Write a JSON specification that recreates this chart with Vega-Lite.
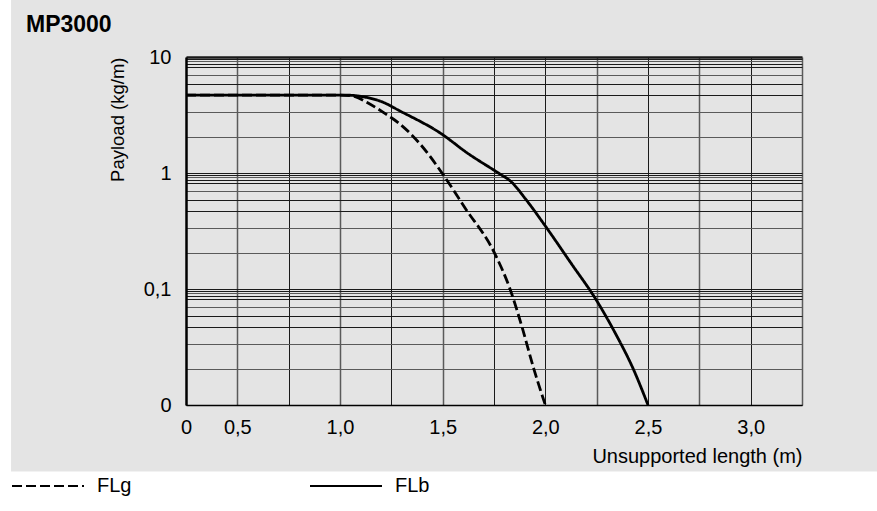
{
  "$schema": "https://vega.github.io/schema/vega-lite/v6.json",
  "width": 616,
  "height": 348,
  "autosize": {"type": "none"},
  "padding": {"left": 186, "top": 57, "right": 75, "bottom": 106},
  "background": "#e4e4e4",
  "title": {
    "text": "MP3000",
    "anchor": "start",
    "frame": "group",
    "orient": "top",
    "dx": -160,
    "dy": 54.5,
    "offset": 0,
    "baseline": "alphabetic",
    "font": "Liberation Sans",
    "fontSize": 23,
    "fontWeight": "bold",
    "color": "black"
  },
  "config": {"view": {"stroke": null}, "font": "Liberation Sans"},
  "layer": [
    {
      "data": {
        "values": [
          {"series": "FLb", "x": 0.25, "y": 4.7},
          {"series": "FLb", "x": 0.6, "y": 4.7},
          {"series": "FLb", "x": 1.0, "y": 4.7},
          {"series": "FLb", "x": 1.05, "y": 4.68},
          {"series": "FLb", "x": 1.1, "y": 4.58},
          {"series": "FLb", "x": 1.21, "y": 4.07},
          {"series": "FLb", "x": 1.29, "y": 3.44},
          {"series": "FLb", "x": 1.495, "y": 2.17},
          {"series": "FLb", "x": 1.617, "y": 1.5},
          {"series": "FLb", "x": 1.779, "y": 0.98},
          {"series": "FLb", "x": 1.828, "y": 0.858},
          {"series": "FLb", "x": 1.91, "y": 0.577},
          {"series": "FLb", "x": 2.0, "y": 0.349},
          {"series": "FLb", "x": 2.125, "y": 0.167},
          {"series": "FLb", "x": 2.25, "y": 0.0794},
          {"series": "FLb", "x": 2.34, "y": 0.0418},
          {"series": "FLb", "x": 2.428, "y": 0.0205},
          {"series": "FLb", "x": 2.5, "y": 0.01},
          {"series": "FLg", "x": 0.25, "y": 4.7},
          {"series": "FLg", "x": 0.6, "y": 4.7},
          {"series": "FLg", "x": 1.0, "y": 4.7},
          {"series": "FLg", "x": 1.073, "y": 4.56},
          {"series": "FLg", "x": 1.13, "y": 4.07},
          {"series": "FLg", "x": 1.211, "y": 3.33},
          {"series": "FLg", "x": 1.292, "y": 2.64},
          {"series": "FLg", "x": 1.39, "y": 1.78},
          {"series": "FLg", "x": 1.495, "y": 1.01},
          {"series": "FLg", "x": 1.609, "y": 0.5},
          {"series": "FLg", "x": 1.755, "y": 0.2},
          {"series": "FLg", "x": 1.828, "y": 0.1},
          {"series": "FLg", "x": 1.885, "y": 0.048},
          {"series": "FLg", "x": 1.942, "y": 0.021},
          {"series": "FLg", "x": 2.0, "y": 0.01}
        ]
      },
      "mark": {"type": "line", "color": "black", "strokeWidth": 2.8, "interpolate": "monotone"},
      "encoding": {
        "x": {
          "field": "x",
          "type": "quantitative",
          "scale": {"domain": [0.25, 3.25], "nice": false, "zero": false},
          "axis": {
            "values": [0.25, 0.5, 0.75, 1, 1.25, 1.5, 1.75, 2, 2.25, 2.5, 2.75, 3, 3.25],
            "labelExpr": "datum.value == 0.25 ? '0' : (datum.value == 0.5 || datum.value == 1 || datum.value == 1.5 || datum.value == 2 || datum.value == 2.5 || datum.value == 3) ? replace(format(datum.value, '.1f'), '.', ',') : ''",
            "grid": true,
            "gridOpacity": 1,
            "gridColor": {"condition": {"test": "indexof([0.5, 1, 1.5, 2.25, 2.75, 3.25], datum.value) >= 0", "value": "#5a5a5a"}, "value": "#1a1a1a"},
            "gridWidth": {"condition": {"test": "indexof([0.5, 1, 1.5, 2.25, 2.75, 3.25], datum.value) >= 0", "value": 1.5}, "value": 1},
            "ticks": false,
            "tickSize": 0,
            "labelPadding": 12,
            "labelFontSize": 20,
            "labelColor": "black",
            "labelFlush": false,
            "labelOverlap": false,
            "domainColor": "black",
            "domainWidth": 1.5,
            "title": "Unsupported length (m)",
            "titleAnchor": "end",
            "titleFontSize": 20,
            "titleFontWeight": "normal",
            "titleColor": "black",
            "titlePadding": 9
          }
        },
        "y": {
          "field": "y",
          "type": "quantitative",
          "scale": {"type": "log", "domain": [0.01, 10], "nice": false},
          "axis": {
            "values": [10, 9.66, 9.23, 8.75, 8.17, 7.05, 5.85, 4.7, 3.37, 2.04, 1, 0.966, 0.923, 0.875, 0.817, 0.705, 0.585, 0.47, 0.337, 0.204, 0.1, 0.0966, 0.0923, 0.0875, 0.0817, 0.0705, 0.0585, 0.047, 0.0337, 0.0204, 0.01],
            "labelExpr": "datum.value == 10 ? '10' : datum.value == 1 ? '1' : datum.value == 0.1 ? '0,1' : datum.value == 0.01 ? '0' : ''",
            "grid": true,
            "gridOpacity": 1,
            "gridColor": {"condition": {"test": "indexof([923, 705, 337, 204], round(100 * datum.value / pow(10, floor(log(datum.value) / LN10 + 1e-9)))) >= 0", "value": "#5a5a5a"}, "value": "#1a1a1a"},
            "gridWidth": {"condition": {"test": "datum.value >= 9.99", "value": 2.5}, "value": 1},
            "ticks": false,
            "tickSize": 0,
            "labelPadding": 15,
            "labelFontSize": 20,
            "labelColor": "black",
            "labelFlush": false,
            "labelOverlap": false,
            "domainColor": "black",
            "domainWidth": 2.5,
            "title": "Payload (kg/m)",
            "titleAnchor": "end",
            "titleFontSize": 18.5,
            "titleFontWeight": "normal",
            "titleColor": "black",
            "titlePadding": 16
          }
        },
        "strokeDash": {
          "field": "series",
          "type": "nominal",
          "scale": {"domain": ["FLg", "FLb"], "range": [[10, 4], [1, 0]]},
          "legend": {
            "orient": "none",
            "legendX": -175,
            "legendY": 392,
            "direction": "horizontal",
            "title": null,
            "symbolType": "stroke",
            "symbolSize": 5184,
            "symbolStrokeWidth": 2,
            "symbolStrokeColor": "black",
            "labelFontSize": 20,
            "labelColor": "black",
            "labelOffset": 12,
            "columnPadding": 174,
            "padding": 0
          }
        }
      }
    },
    {
      "data": {"values": [{}]},
      "mark": {"type": "rect", "color": "white"},
      "encoding": {
        "x": {"datum": -3, "type": "quantitative"},
        "x2": {"datum": 6},
        "y": {"datum": 0.00267, "type": "quantitative"},
        "y2": {"datum": 0.000001}
      }
    },
    {
      "data": {"values": [{}]},
      "mark": {"type": "rect", "color": "white"},
      "encoding": {
        "x": {"datum": -3, "type": "quantitative"},
        "x2": {"datum": -0.602},
        "y": {"datum": 31, "type": "quantitative"},
        "y2": {"datum": 0.000001}
      }
    }
  ]
}
